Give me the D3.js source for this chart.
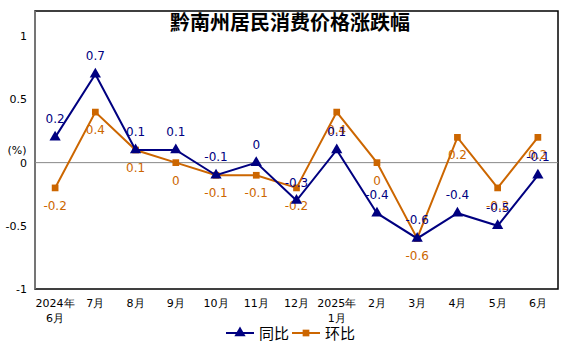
<!DOCTYPE html>
<html><head><meta charset="utf-8">
<script src="https://cdn.jsdelivr.net/npm/d3@7"></script>
<style>body{margin:0;background:#fff}svg{display:block}</style>
</head><body>
<svg id="c" width="574" height="356"></svg>
<script>
const categories = [["2024年","6月"],["7月"],["8月"],["9月"],["10月"],["11月"],["12月"],["2025年","1月"],["2月"],["3月"],["4月"],["5月"],["6月"]];
const tongbi = [0.2,0.7,0.1,0.1,-0.1,0,-0.3,0.1,-0.4,-0.6,-0.4,-0.5,-0.1];
const huanbi = [-0.2,0.4,0.1,0,-0.1,-0.1,-0.2,0.4,0,-0.6,0.2,-0.2,0.2];
const yTicks = [-1,-0.5,0,0.5,1];
const title = "黔南州居民消费价格涨跌幅";

const svg = d3.select("#c");
const L=35,R=558,T=11,B=289;
const font = "DejaVu Sans, Verdana, sans-serif";
const x = d3.scaleBand().domain(d3.range(categories.length)).range([L,R]);
const y = d3.scaleLinear().domain([-1,1.2]).range([B,T]);
const cx = i => x(i)+x.bandwidth()/2;
const navy="#000080", orange="#CC6600";

// frame
svg.append("rect").attr("x",L).attr("y",T).attr("width",R-L).attr("height",B-T)
  .attr("fill","none").attr("stroke","#000").attr("stroke-width",1.5);
svg.append("line").attr("x1",L).attr("x2",L).attr("y1",T).attr("y2",B).attr("stroke","#888").attr("stroke-width",1.5);
svg.append("line").attr("x1",L).attr("x2",R).attr("y1",y(0)).attr("y2",y(0)).attr("stroke","#888").attr("stroke-width",1);

// y axis labels
const yAxis = d3.axisLeft(y).tickValues(yTicks).tickSize(0).tickPadding(8).tickFormat(d=>String(d));
const ga = svg.append("g").attr("transform",`translate(${L},0)`).call(yAxis);
ga.select(".domain").remove();
ga.selectAll("text").attr("font-family",font).attr("font-size",11).attr("fill","#000");
svg.append("text").attr("x",17).attr("y",154).attr("text-anchor","middle").attr("font-family",font).attr("font-size",11).text("(%)");

// x labels
const gx = svg.append("g");
categories.forEach((c,i)=>{
  const t = gx.append("text").attr("x",cx(i)).attr("y",307).attr("text-anchor","middle")
    .attr("font-family",font).attr("font-size",11).attr("fill","#000");
  c.forEach((s,j)=>t.append("tspan").attr("x",cx(i)).attr("dy",j?15:0).text(s));
});

// title
svg.append("text").attr("x",290).attr("y",30).attr("text-anchor","middle")
  .attr("font-family","Noto Sans CJK SC, sans-serif").attr("font-weight","bold").attr("font-size",20).text(title);

const line = d3.line().x((d,i)=>cx(i)).y(d=>y(d));
function series(data,color,sym,size,dy){
  svg.append("path").datum(data).attr("d",line).attr("fill","none").attr("stroke",color).attr("stroke-width",2);
  svg.selectAll(null).data(data).enter().append("path")
    .attr("transform",(d,i)=>`translate(${cx(i)},${y(d)})`)
    .attr("d",d3.symbol().type(sym).size(size)).attr("fill",color);
  svg.selectAll(null).data(data).enter().append("text")
    .attr("x",(d,i)=>cx(i)).attr("y",d=>y(d)+dy).attr("text-anchor","middle")
    .attr("font-family",font).attr("font-size",12).attr("fill",color).text(d=>String(d));
}
series(huanbi,orange,d3.symbolSquare,45,22);
series(tongbi,navy,d3.symbolTriangle,55,-14);

// legend
const lg = svg.append("g");
function legendItem(x0,color,sym,size,label){
  lg.append("line").attr("x1",x0).attr("x2",x0+28).attr("y1",333).attr("y2",333).attr("stroke",color).attr("stroke-width",2);
  lg.append("path").attr("transform",`translate(${x0+14},333)`).attr("d",d3.symbol().type(sym).size(size)).attr("fill",color);
  lg.append("text").attr("x",x0+33).attr("y",339).attr("font-family","Noto Sans CJK SC, sans-serif").attr("font-size",15).text(label);
}
legendItem(226,navy,d3.symbolTriangle,55,"同比");
legendItem(292,orange,d3.symbolSquare,45,"环比");
</script>
</body></html>
